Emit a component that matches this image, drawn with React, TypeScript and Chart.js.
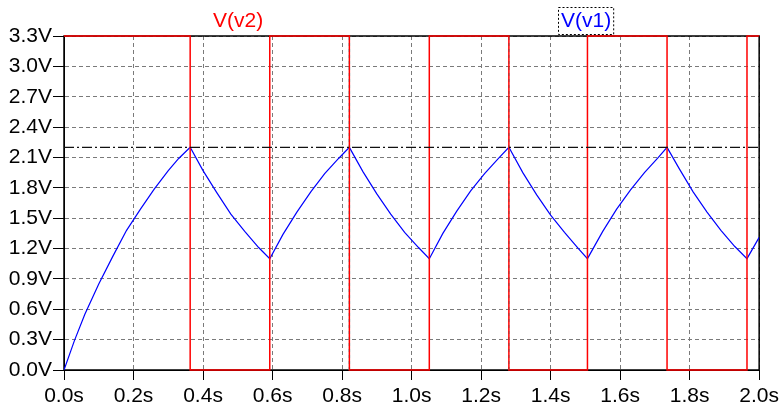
import { useEffect, useRef } from "react";
import { Chart, registerables } from "chart.js";

Chart.register(...registerables);

const FONT = '"Liberation Sans", Arial, sans-serif';

// V(v1): capacitor voltage (seconds, volts)
const v1Times = [
  0, 0.03, 0.06, 0.1, 0.14, 0.18, 0.22, 0.26, 0.3, 0.33, 0.363,
  0.4, 0.44, 0.48, 0.52, 0.56, 0.592,
  0.63, 0.67, 0.71, 0.75, 0.79, 0.821,
  0.86, 0.9, 0.94, 0.98, 1.02, 1.051,
  1.09, 1.13, 1.17, 1.21, 1.25, 1.28,
  1.32, 1.36, 1.4, 1.44, 1.48, 1.506,
  1.55, 1.59, 1.63, 1.67, 1.71, 1.735,
  1.77, 1.81, 1.85, 1.89, 1.93, 1.965,
  2.0,
];
const v1Values = [
  0, 0.29, 0.55, 0.85, 1.12, 1.38, 1.59, 1.79, 1.97, 2.09, 2.2,
  1.97, 1.75, 1.54, 1.37, 1.21, 1.1,
  1.34, 1.56, 1.76, 1.94, 2.09, 2.2,
  1.96, 1.74, 1.54, 1.36, 1.21, 1.1,
  1.35, 1.57, 1.77, 1.94, 2.09, 2.2,
  1.95, 1.73, 1.53, 1.36, 1.2, 1.1,
  1.37, 1.59, 1.78, 1.95, 2.1, 2.2,
  1.99, 1.76, 1.56, 1.38, 1.22, 1.1,
  1.31,
];

// V(v2): output square wave
const v2Times = [0, 0.363, 0.363, 0.592, 0.592, 0.821, 0.821, 1.051, 1.051, 1.28, 1.28, 1.506, 1.506, 1.735, 1.735, 1.965, 1.965, 2.0];
const v2Values = [3.3, 3.3, 0, 0, 3.3, 3.3, 0, 0, 3.3, 3.3, 0, 0, 3.3, 3.3, 0, 0, 3.3, 3.3];

// cyan dashed marks overlaid on two of the rising edges
const cyanTimes = [0.821, 0.821, 0.821, 1.28, 1.28];
const cyanValues: (number | null)[] = [0, 3.3, null, 0, 3.3];

// horizontal reference level
const refLevel = 2.2;

// axes
const xMin = 0, xMax = 2.0, xStep = 0.2;
const yMin = 0, yMax = 3.3, yStep = 0.3;

const legendItems = [
  { text: "V(v2)", color: "#ff0000", x: 213, boxed: false },
  { text: "V(v1)", color: "#0000ff", x: 561, boxed: true },
];

const zip = (xs: number[], ys: (number | null)[]) => xs.map((x, i) => ({ x, y: ys[i] }));

const framePlugin = {
  id: "frame",
  beforeDatasetsDraw(chart: any) {
    const { ctx, chartArea: a } = chart;
    ctx.save();
    ctx.strokeStyle = "#000";
    ctx.lineWidth = 1.5;
    ctx.setLineDash([]);
    ctx.strokeRect(a.left, a.top, a.right - a.left, a.bottom - a.top);
    ctx.restore();
  },
  afterDraw(chart: any) {
    const { ctx } = chart;
    ctx.save();
    ctx.font = `21px ${FONT}`;
    ctx.textBaseline = "middle";
    ctx.textAlign = "left";
    for (const it of legendItems) {
      ctx.fillStyle = it.color;
      ctx.fillText(it.text, it.x, 21);
      if (it.boxed) {
        const w = ctx.measureText(it.text).width;
        ctx.strokeStyle = "#000";
        ctx.lineWidth = 1;
        ctx.setLineDash([2, 2]);
        ctx.strokeRect(it.x - 2.5, 7.5, w + 5, 27);
      }
    }
    ctx.restore();
  },
};

export default function App() {
  const ref = useRef<HTMLCanvasElement>(null);
  useEffect(() => {
    document.body.style.margin = "0";
    const chart = new Chart(ref.current!, {
      type: "line",
      data: {
        datasets: [
          {
            data: zip([xMin, xMax], [refLevel, refLevel]),
            borderColor: "#111111",
            borderWidth: 1.2,
            borderDash: [10, 3, 2, 3],
            pointRadius: 0,
          },
          {
            data: zip(v2Times, v2Values),
            borderColor: "#ff0000",
            borderWidth: 1.5,
            pointRadius: 0,
            tension: 0,
            clip: false,
          },
          {
            data: zip(cyanTimes, cyanValues),
            borderColor: "#00ffff",
            borderWidth: 1.5,
            borderDash: [3, 3],
            pointRadius: 0,
            spanGaps: false,
            clip: false,
          },
          {
            data: zip(v1Times, v1Values),
            borderColor: "#0000ff",
            borderWidth: 1.2,
            pointRadius: 0,
            tension: 0,
          },
        ],
      } as any,
      options: {
        responsive: false,
        animation: false,
        layout: { padding: { top: 36, right: 21, left: 0, bottom: 0 } },
        plugins: { legend: { display: false }, tooltip: { enabled: false } },
        scales: {
          x: {
            type: "linear",
            min: xMin,
            max: xMax,
            afterFit: (s: any) => { s.height = 37; },
            ticks: {
              stepSize: xStep,
              autoSkip: false,
              maxRotation: 0,
              color: "#000",
              padding: 4,
              font: { family: FONT, size: 21 },
              callback: (v: any) => Number(v).toFixed(1) + "s",
            },
            grid: { color: "#7a7a7a", tickColor: "#000", tickLength: 10, lineWidth: 1 },
            border: { display: true, color: "#000", dash: [4, 3] },
          },
          y: {
            type: "linear",
            min: yMin,
            max: yMax,
            afterFit: (s: any) => { s.width = 64; },
            ticks: {
              stepSize: yStep,
              autoSkip: false,
              color: "#000",
              padding: 1,
              font: { family: FONT, size: 21 },
              callback: (v: any) => Number(v).toFixed(1) + "V",
            },
            grid: { color: "#7a7a7a", tickColor: "#000", tickLength: 11, lineWidth: 1 },
            border: { display: true, color: "#000", dash: [4, 3] },
          },
        },
      } as any,
      plugins: [framePlugin],
    });
    return () => chart.destroy();
  }, []);
  return <canvas ref={ref} width={783} height={407} style={{ display: "block" }} />;
}
